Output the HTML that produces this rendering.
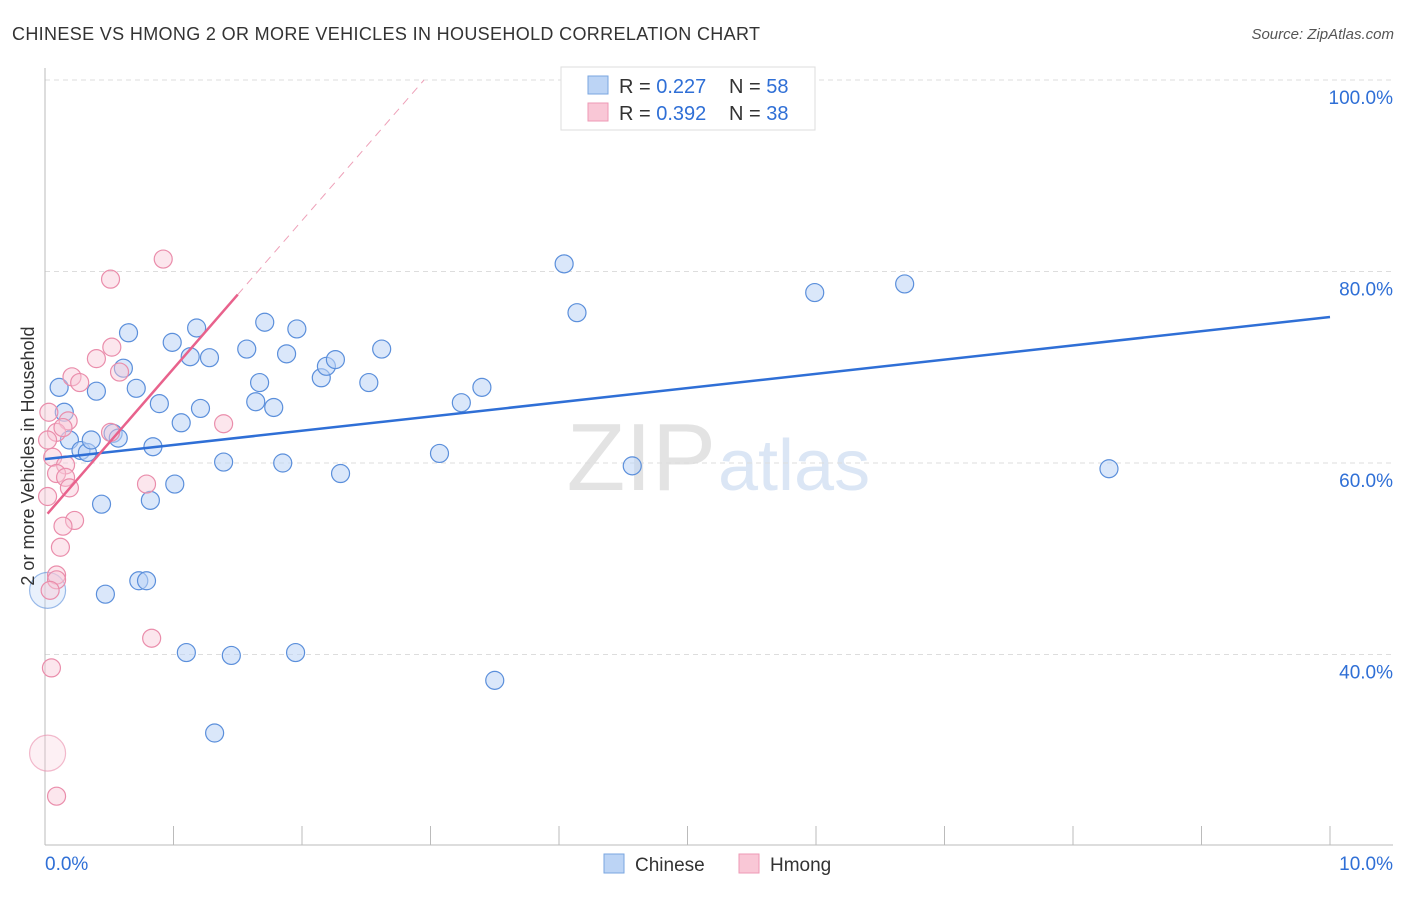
<!DOCTYPE html>
<html><head><meta charset="utf-8"><style>
body{margin:0;background:#fff;font-family:"Liberation Sans",sans-serif}
svg text{font-family:"Liberation Sans",sans-serif}
</style></head><body>
<svg id="c" width="1406" height="892">
<text x="12" y="40" font-size="18" fill="#333" textLength="748">CHINESE VS HMONG 2 OR MORE VEHICLES IN HOUSEHOLD CORRELATION CHART</text>
<text x="1394" y="39" font-size="15" fill="#555" text-anchor="end" font-style="italic">Source: ZipAtlas.com</text>
<text x="716" y="490" font-size="96" fill="#e3e3e3" text-anchor="end" font-family="Liberation Serif">ZIP</text>
<text x="718" y="490" font-size="72" fill="#dbe6f5">atlas</text>
<g id="grid"></g><g id="axes"></g><g id="pts"></g><g id="lines"></g>
<text transform="translate(34,456) rotate(-90)" font-size="18" fill="#333" text-anchor="middle">2 or more Vehicles in Household</text>
<g>
<rect x="561" y="67" width="254" height="63" fill="#fff" stroke="#ddd"/>
<rect x="588" y="76" width="20" height="18" fill="#bcd4f5" stroke="#7aa6e0"/>
<rect x="588" y="103" width="20" height="18" fill="#f9c7d6" stroke="#ee9ab5"/>
<text x="619" y="93" font-size="20" fill="#333">R = <tspan fill="#2f6fd6">0.227</tspan></text>
<text x="729" y="93" font-size="20" fill="#333">N = <tspan fill="#2f6fd6">58</tspan></text>
<text x="619" y="120" font-size="20" fill="#333">R = <tspan fill="#2f6fd6">0.392</tspan></text>
<text x="729" y="120" font-size="20" fill="#333">N = <tspan fill="#2f6fd6">38</tspan></text>
</g>
<g>
<rect x="604" y="854" width="20" height="19" fill="#bcd4f5" stroke="#7aa6e0"/>
<text x="635" y="871" font-size="19" fill="#333">Chinese</text>
<rect x="739" y="854" width="20" height="19" fill="#f9c7d6" stroke="#ee9ab5"/>
<text x="770" y="871" font-size="19" fill="#333">Hmong</text>
</g>
</svg>
<script>
const blueX=[0.11,0.15,0.40,0.19,0.28,0.33,0.36,0.53,0.57,0.61,0.65,0.71,0.89,0.84,0.99,1.06,1.13,1.18,1.21,1.28,1.39,1.57,1.64,1.67,1.71,1.78,1.88,1.85,1.96,2.15,2.19,2.26,2.30,2.52,2.62,3.24,3.40,3.07,4.04,4.14,4.57,5.99,6.69,8.28,0.44,0.82,1.01,0.47,0.73,0.79,1.10,1.45,1.95,3.50,1.32,0.02];
const blueY=[67.9,65.3,67.5,62.4,61.3,61.1,62.4,63.1,62.6,69.9,73.6,67.8,66.2,61.7,72.6,64.2,71.1,74.1,65.7,71.0,60.1,71.9,66.4,68.4,74.7,65.8,71.4,60.0,74.0,68.9,70.1,70.8,58.9,68.4,71.9,66.3,67.9,61.0,80.8,75.7,59.7,77.8,78.7,59.4,55.7,56.1,57.8,46.3,47.7,47.7,40.2,39.9,40.2,37.3,31.8,46.7];
const pinkX=[0.92,0.51,0.52,0.40,0.58,0.21,0.27,0.03,0.18,0.09,0.14,0.51,1.39,0.06,0.16,0.09,0.16,0.19,0.79,0.23,0.14,0.12,0.09,0.09,0.04,0.83,0.05,0.02,0.09,0.02,0.02];
const pinkY=[81.3,79.2,72.1,70.9,69.5,69.0,68.4,65.3,64.4,63.2,63.7,63.2,64.1,60.6,59.8,58.9,58.5,57.4,57.8,54.0,53.4,51.2,48.3,47.8,46.7,41.7,38.6,29.7,25.2,56.5,62.4];
const blueTrend=[60.4,75.25]; // y at x=0 and x=10
const pinkTrend=[54.4,15.46]; // intercept, slope per 1%
const yTicks=[40,60,80,100];
const xTickCount=11;
const sx=v=>45+v*128.5;
function Y(v){return 80+(100-v)*9.575;}
const NS="http://www.w3.org/2000/svg";
function mk(p,tag,a){const e=document.createElementNS(NS,tag);for(const k in a)e.setAttribute(k,a[k]);document.getElementById(p).appendChild(e);return e;}
yTicks.forEach(t=>{
 const l=mk('grid','line',{x1:45,x2:1393,y1:Y(t),y2:Y(t),stroke:'#ddd','stroke-dasharray':'5,4'});
 
 
 const tx=mk('grid','text',{x:1393,y:Y(t)+24,'font-size':19,fill:'#2f6fd6','text-anchor':'end'});
 tx.textContent=t.toFixed(1)+'%';
 
 
});
let a=mk('axes','line',{x1:45,x2:1393,y1:845,y2:845,stroke:'#bbb'});


a=mk('axes','line',{x1:45,x2:45,y1:68,y2:845,stroke:'#bbb'});


for(let i=0;i<xTickCount;i++){const t=mk('axes','line',{x1:sx(i),x2:sx(i),y1:826,y2:845,stroke:'#bbb'});
 
 }
let t0=mk('axes','text',{x:45,y:870,'font-size':19,fill:'#2f6fd6'});t0.textContent='0.0%';


let t1=mk('axes','text',{x:1393,y:870,'font-size':19,fill:'#2f6fd6','text-anchor':'end'});t1.textContent='10.0%';


function dots(X,Yv,fill,stroke,name,op){X.forEach((x,i)=>{const big=(Yv[i]===46.7&&x<0.03&&name==='chinese')||(Yv[i]===29.7);
 const c=mk('pts','circle',{cx:sx(x),cy:Y(Yv[i]),r:big?18:9,fill:fill,'fill-opacity':big?op*0.6:op,stroke:stroke,'stroke-width':1.2,'stroke-opacity':big?0.6:1});
 
 });}
dots(blueX,blueY,'#bcd4f5','#5b8fdb','chinese',0.55);
dots(pinkX,pinkY,'#f9c7d6','#ea8dab','hmong',0.45);
let bl=mk('lines','line',{x1:sx(0),y1:Y(blueTrend[0]),x2:sx(10),y2:Y(blueTrend[1]),stroke:'#2f6fd6','stroke-width':2.5});


let pl=mk('lines','line',{x1:sx(0.02),y1:Y(pinkTrend[0]+0.02*pinkTrend[1]),x2:sx(1.5),y2:Y(pinkTrend[0]+1.5*pinkTrend[1]),stroke:'#e8628c','stroke-width':2.5});


const xe=(100-pinkTrend[0])/pinkTrend[1];
let pd=mk('lines','line',{x1:sx(1.5),y1:Y(pinkTrend[0]+1.5*pinkTrend[1]),x2:sx(xe),y2:Y(100),stroke:'#eea0b8','stroke-width':1,'stroke-dasharray':'8,6'});


</script>
</body></html>
